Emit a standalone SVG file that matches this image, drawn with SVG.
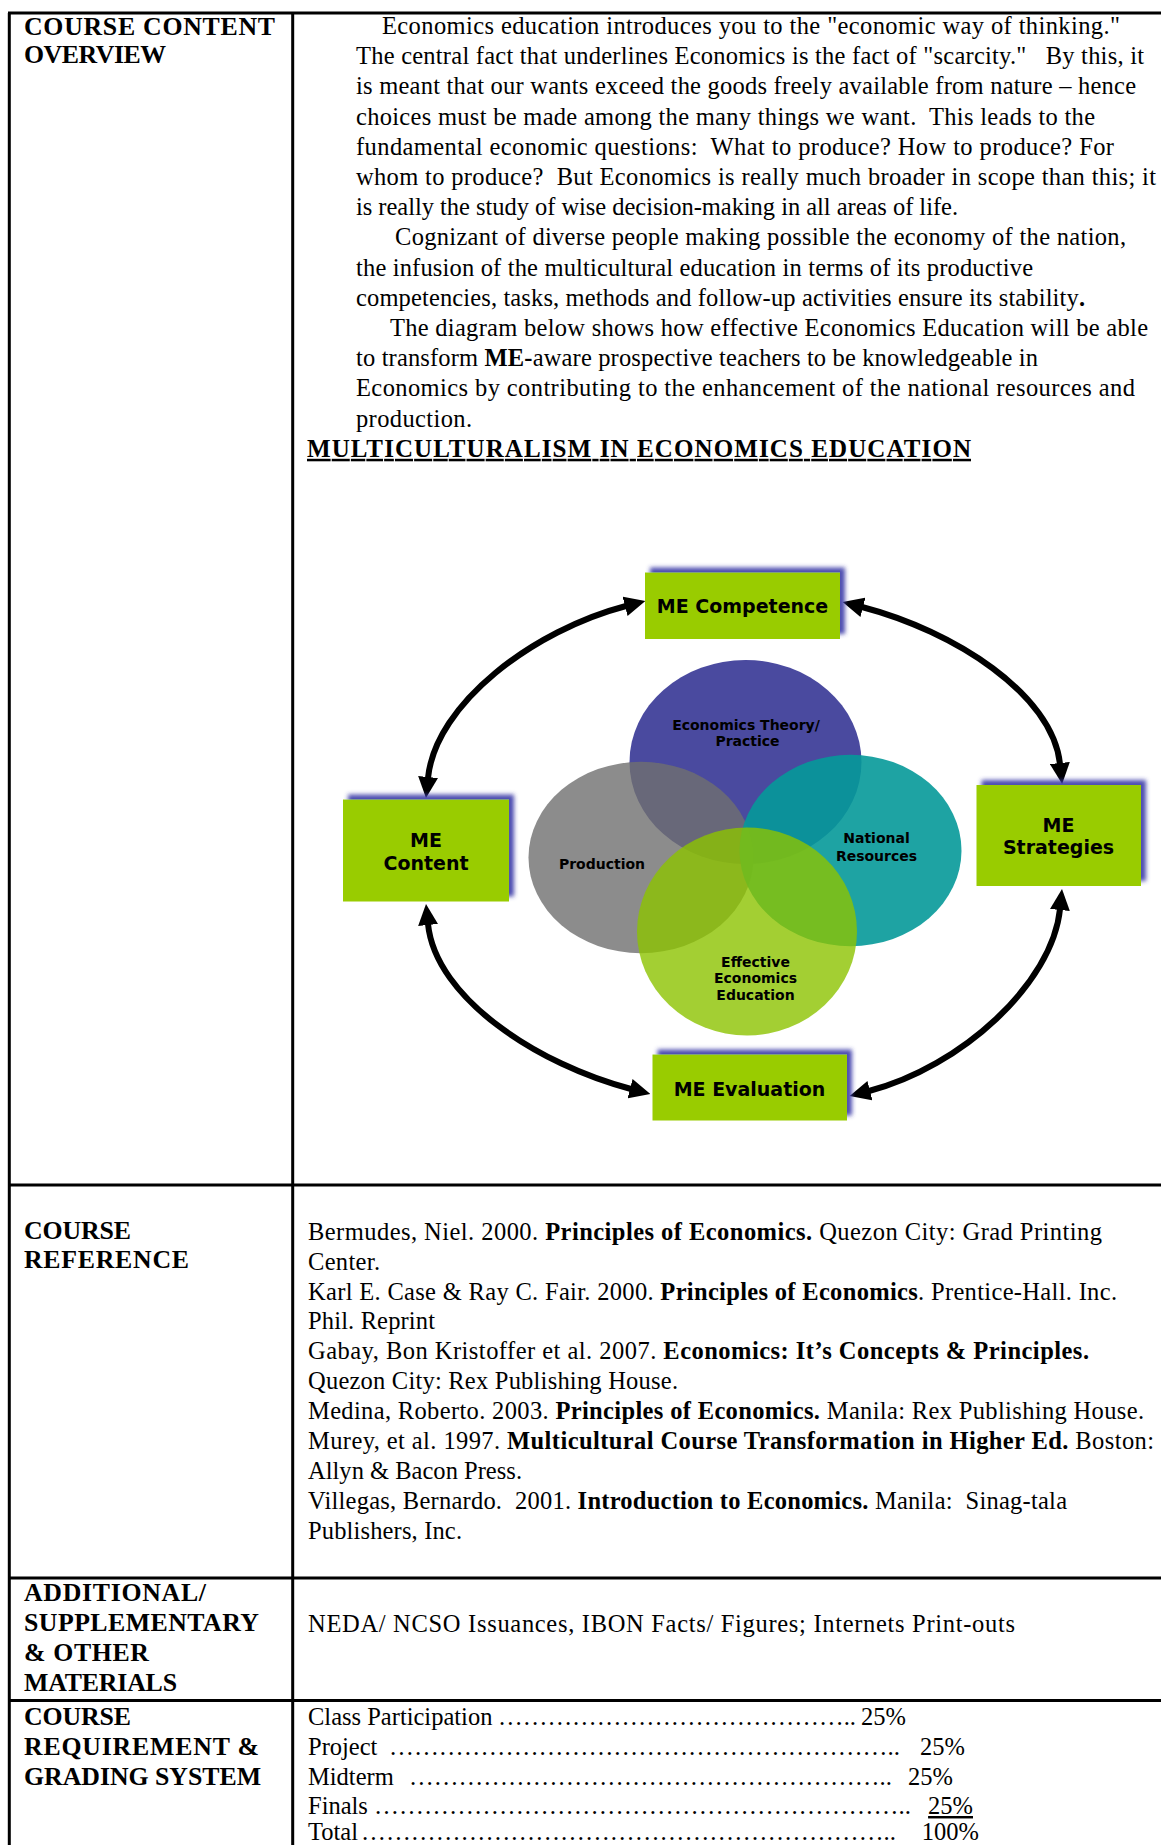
<svg xmlns="http://www.w3.org/2000/svg" width="1161" height="1845" viewBox="0 0 1161 1845">
<defs>
<style>
.hd{font-family:"Liberation Serif",serif;font-weight:bold;font-size:25.8px;fill:#000}
.bd{font-family:"Liberation Serif",serif;font-size:24.5px;fill:#000}
.b{font-weight:bold}
.bx{font-family:"DejaVu Sans",sans-serif;font-weight:bold;font-size:19px;text-anchor:middle;fill:#000}
.cl{font-family:"DejaVu Sans",sans-serif;font-weight:bold;font-size:14px;text-anchor:middle;fill:#000}
.rule{stroke:#000;stroke-width:3;fill:none}
.box{fill:#99CC00}
.arc{fill:none;stroke:#000;stroke-width:6}
</style>
<filter id="sh" x="-15%" y="-30%" width="135%" height="160%">
<feGaussianBlur in="SourceAlpha" stdDeviation="2.2" result="b"/>
<feOffset in="b" dx="5" dy="-5" result="o"/>
<feFlood flood-color="#3a3aa8" flood-opacity="0.9"/>
<feComposite in2="o" operator="in" result="s"/>
<feMerge><feMergeNode in="s"/><feMergeNode in="SourceGraphic"/></feMerge>
</filter>
<marker id="ah" viewBox="0 0 21 20" refX="1" refY="10" markerWidth="21" markerHeight="20" markerUnits="userSpaceOnUse" orient="auto-start-reverse">
<path d="M0,0 L21,10 L0,20 z" fill="#000"/>
</marker>
</defs>
<rect width="1161" height="1845" fill="#fff"/>

<g id="table">
<path class="rule" d="M8,13 H1161 M9.3,13 V1845 M292.7,13 V1845 M8,1185 H1161 M8,1578 H1161 M8,1700.5 H1161"/>
</g>

<g id="left-headings">
<text class="hd" x="24" y="35" textLength="251">COURSE CONTENT</text>
<text class="hd" x="24" y="63" textLength="142">OVERVIEW</text>
<text class="hd" x="24" y="1239" textLength="107">COURSE</text>
<text class="hd" x="24" y="1268" textLength="165">REFERENCE</text>
<text class="hd" x="24" y="1601" textLength="182">ADDITIONAL/</text>
<text class="hd" x="24" y="1631" textLength="235">SUPPLEMENTARY</text>
<text class="hd" x="24" y="1661" textLength="125">&amp; OTHER</text>
<text class="hd" x="24" y="1691" textLength="153">MATERIALS</text>
<text class="hd" x="24" y="1725" textLength="107">COURSE</text>
<text class="hd" x="24" y="1754.5" textLength="235">REQUIREMENT &amp;</text>
<text class="hd" x="24" y="1784.5" textLength="237">GRADING SYSTEM</text>
</g>

<g id="overview-text">
<text class="bd" x="382" y="34" textLength="738">Economics education introduces you to the "economic way of thinking."</text>
<text class="bd" x="356" y="64.2" textLength="788" xml:space="preserve">The central fact that underlines Economics is the fact of "scarcity."   By this, it</text>
<text class="bd" x="356" y="94.4" textLength="780">is meant that our wants exceed the goods freely available from nature – hence</text>
<text class="bd" x="356" y="124.6" textLength="739" xml:space="preserve">choices must be made among the many things we want.  This leads to the</text>
<text class="bd" x="356" y="154.8" textLength="758" xml:space="preserve">fundamental economic questions:  What to produce? How to produce? For</text>
<text class="bd" x="356" y="185" textLength="800" xml:space="preserve">whom to produce?  But Economics is really much broader in scope than this; it</text>
<text class="bd" x="356" y="215.2" textLength="602">is really the study of wise decision-making in all areas of life.</text>
<text class="bd" x="395" y="245.4" textLength="731">Cognizant of diverse people making possible the economy of the nation,</text>
<text class="bd" x="356" y="275.6" textLength="677">the infusion of the multicultural education in terms of its productive</text>
<text class="bd" x="356" y="305.8" textLength="729">competencies, tasks, methods and follow-up activities ensure its stability<tspan class="b">.</tspan></text>
<text class="bd" x="390" y="336" textLength="758">The diagram below shows how effective Economics Education will be able</text>
<text class="bd" x="356" y="366.2" textLength="682">to transform <tspan class="b">ME-</tspan>aware prospective teachers to be knowledgeable in</text>
<text class="bd" x="356" y="396.4" textLength="779">Economics by contributing to the enhancement of the national resources and</text>
<text class="bd" x="356" y="426.6" textLength="116">production.</text>
<text class="hd" x="307" y="456.8" textLength="664" style="font-size:25px" text-decoration="underline">MULTICULTURALISM IN ECONOMICS EDUCATION</text>
</g>

<g id="connectors">
<path class="arc" d="M626,606 C534,630 435.5,703.4 428,778" marker-start="url(#ah)" marker-end="url(#ah)"/>
<path class="arc" d="M862,607 C954,631 1052.5,694 1060,764" marker-start="url(#ah)" marker-end="url(#ah)"/>
<path class="arc" d="M428,924 C435.5,998.6 539,1065 631,1089" marker-start="url(#ah)" marker-end="url(#ah)"/>
<path class="arc" d="M1060,909 C1052.5,983.6 961,1067 869,1091" marker-start="url(#ah)" marker-end="url(#ah)"/>
</g>

<g id="venn">
<g id="circle-theory">
<ellipse cx="745.5" cy="762" rx="116" ry="102" fill="#4A4A9F"/>
</g>
<g id="circle-production">
<ellipse cx="641" cy="857.5" rx="112.5" ry="95.7" fill="#6F6F6F" fill-opacity="0.8"/>
</g>
<g id="circle-resources">
<ellipse cx="850.5" cy="850.5" rx="111" ry="95.7" fill="#059999" fill-opacity="0.9"/>
</g>
<g id="circle-effective">
<ellipse cx="747" cy="931.5" rx="110" ry="104" fill="#8CC300" fill-opacity="0.8"/>
</g>
<g id="venn-labels">
<text class="cl" x="746" y="729.5">Economics Theory/</text>
<text class="cl" x="747.5" y="746">Practice</text>
<text class="cl" x="602" y="868.5">Production</text>
<text class="cl" x="876.5" y="843">National</text>
<text class="cl" x="876.5" y="860.5">Resources</text>
<text class="cl" x="755.5" y="966.5">Effective</text>
<text class="cl" x="755.5" y="983">Economics</text>
<text class="cl" x="755.5" y="999.5">Education</text>
</g>
</g>

<g id="node-competence">
<rect class="box" x="645" y="572.5" width="195" height="66.5" filter="url(#sh)"/>
<text class="bx" x="742.5" y="613">ME Competence</text>
</g>
<g id="node-content">
<rect class="box" x="343" y="799.5" width="166" height="102" filter="url(#sh)"/>
<text class="bx" x="426" y="847">ME</text>
<text class="bx" x="426" y="870">Content</text>
</g>
<g id="node-strategies">
<rect class="box" x="976.5" y="785" width="164.5" height="101" filter="url(#sh)"/>
<text class="bx" x="1058.5" y="832">ME</text>
<text class="bx" x="1058.5" y="854">Strategies</text>
</g>
<g id="node-evaluation">
<rect class="box" x="652.5" y="1054.5" width="194.5" height="66" filter="url(#sh)"/>
<text class="bx" x="749.5" y="1096">ME Evaluation</text>
</g>

<g id="references">
<text class="bd" x="308" y="1240" textLength="794">Bermudes, Niel. 2000. <tspan class="b">Principles of Economics.</tspan> Quezon City: Grad Printing</text>
<text class="bd" x="308" y="1269.5" textLength="72">Center.</text>
<text class="bd" x="308" y="1299.5" textLength="809">Karl E. Case &amp; Ray C. Fair. 2000. <tspan class="b">Principles of Economics</tspan>. Prentice-Hall. Inc.</text>
<text class="bd" x="308" y="1329" textLength="127">Phil. Reprint</text>
<text class="bd" x="308" y="1359" textLength="781">Gabay, Bon Kristoffer et al. 2007. <tspan class="b">Economics: It’s Concepts &amp; Principles.</tspan></text>
<text class="bd" x="308" y="1389" textLength="370">Quezon City: Rex Publishing House.</text>
<text class="bd" x="308" y="1419" textLength="836">Medina, Roberto. 2003. <tspan class="b">Principles of Economics.</tspan> Manila: Rex Publishing House.</text>
<text class="bd" x="308" y="1449" textLength="846">Murey, et al. 1997. <tspan class="b">Multicultural Course Transformation in Higher Ed.</tspan> Boston:</text>
<text class="bd" x="308" y="1479" textLength="214">Allyn &amp; Bacon Press.</text>
<text class="bd" x="308" y="1509" textLength="759" xml:space="preserve">Villegas, Bernardo.  2001. <tspan class="b">Introduction to Economics.</tspan> Manila:  Sinag-tala</text>
<text class="bd" x="308" y="1539" textLength="154">Publishers, Inc.</text>
</g>

<g id="materials">
<text class="bd" x="308" y="1632" textLength="707">NEDA/ NCSO Issuances, IBON Facts/ Figures; Internets Print-outs</text>
</g>

<g id="grading">
<text class="bd" x="308" y="1725">Class Participation</text>
<text class="bd" x="498" y="1725" textLength="358" lengthAdjust="spacingAndGlyphs">&#8230;&#8230;&#8230;&#8230;&#8230;&#8230;&#8230;&#8230;&#8230;&#8230;&#8230;&#8230;&#8230;&#8230;..</text>
<text class="bd" x="906" y="1725" text-anchor="end">25%</text>
<text class="bd" x="308" y="1755">Project</text>
<text class="bd" x="389" y="1755" textLength="511" lengthAdjust="spacingAndGlyphs">&#8230;&#8230;&#8230;&#8230;&#8230;&#8230;&#8230;&#8230;&#8230;&#8230;&#8230;&#8230;&#8230;&#8230;&#8230;&#8230;&#8230;&#8230;&#8230;&#8230;..</text>
<text class="bd" x="965" y="1755" text-anchor="end">25%</text>
<text class="bd" x="308" y="1784.5">Midterm</text>
<text class="bd" x="409" y="1784.5" textLength="483" lengthAdjust="spacingAndGlyphs">&#8230;&#8230;&#8230;&#8230;&#8230;&#8230;&#8230;&#8230;&#8230;&#8230;&#8230;&#8230;&#8230;&#8230;&#8230;&#8230;&#8230;&#8230;&#8230;..</text>
<text class="bd" x="953" y="1784.5" text-anchor="end">25%</text>
<text class="bd" x="308" y="1814">Finals</text>
<text class="bd" x="374" y="1814" textLength="537" lengthAdjust="spacingAndGlyphs">&#8230;&#8230;&#8230;&#8230;&#8230;&#8230;&#8230;&#8230;&#8230;&#8230;&#8230;&#8230;&#8230;&#8230;&#8230;&#8230;&#8230;&#8230;&#8230;&#8230;&#8230;..</text>
<text class="bd" x="973" y="1814" text-anchor="end" text-decoration="underline">25%</text>
<text class="bd" x="308" y="1839.5">Total</text>
<text class="bd" x="361" y="1839.5" textLength="535" lengthAdjust="spacingAndGlyphs">&#8230;&#8230;&#8230;&#8230;&#8230;&#8230;&#8230;&#8230;&#8230;&#8230;&#8230;&#8230;&#8230;&#8230;&#8230;&#8230;&#8230;&#8230;&#8230;&#8230;&#8230;..</text>
<text class="bd" x="979" y="1839.5" text-anchor="end">100%</text>
</g>
</svg>
